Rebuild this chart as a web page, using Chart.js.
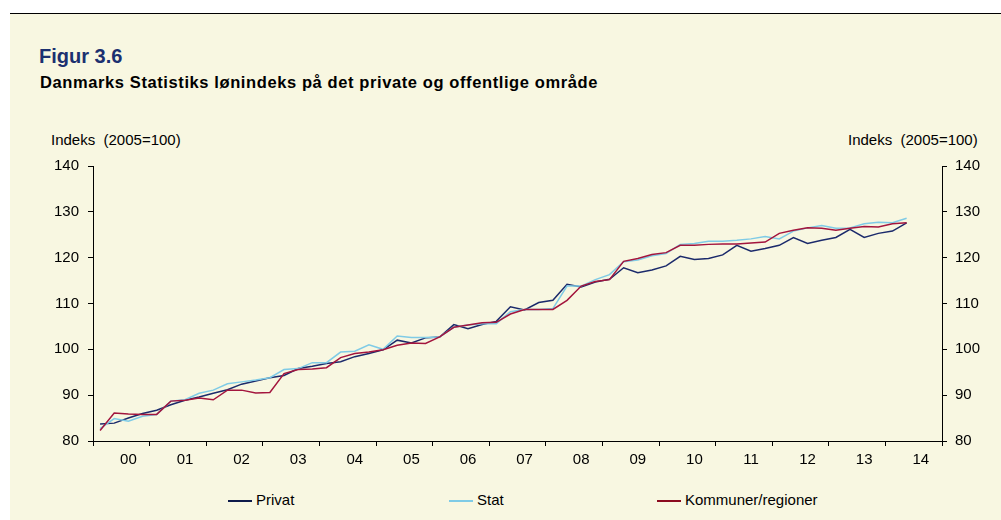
<!DOCTYPE html>
<html lang="da">
<head>
<meta charset="utf-8">
<title>Figur 3.6</title>
<script src="https://cdn.jsdelivr.net/npm/chart.js@4/dist/chart.umd.min.js"></script>
<style>
  body { margin: 0; background: #fff; font-family: 'Liberation Sans', Arial, sans-serif; }
  #wrap { position: relative; width: 1001px; height: 520px; overflow: hidden; }
  #panel { position: absolute; left: 10px; top: 13px; right: 0; bottom: 0; background: #f8f7e1; border-top: 1px solid #000; }
  .txt { position: absolute; white-space: pre; color: #000; }
  #fig { left: 39px; top: 45px; font-size: 20px; font-weight: bold; color: #1b3070; }
  #sub { left: 40px; top: 73px; font-size: 16.5px; font-weight: bold; letter-spacing: 0.6px; }
  .axis-title { top: 131px; font-size: 15px; }
  #legend .item { position: absolute; top: 491px; font-size: 15px; line-height: 17px; }
  #legend .swatch { position: absolute; top: 9px; height: 2px; width: 24px; }
  canvas { position: absolute; left: 0; top: 0; }
</style>
</head>
<body>
<div id="wrap">
  <div id="panel"></div>
  <div class="txt" id="fig">Figur 3.6</div>
  <div class="txt" id="sub">Danmarks Statistiks lønindeks på det private og offentlige område</div>
  <div class="txt axis-title" style="left:51px">Indeks  (2005=100)</div>
  <div class="txt axis-title" style="left:848px">Indeks  (2005=100)</div>
  <div id="legend"></div>
  <canvas id="chart" width="1001" height="520"></canvas>
</div>
<script>
// kvartalsvise indeks 2000K1 - 2014K2
const years = ['00', '01', '02', '03', '04', '05', '06', '07', '08', '09', '10', '11', '12', '13', '14'];

const privat = [
  83.7, 83.9, 85.0, 86.0, 86.7, 87.9, 88.9, 89.6, 90.4, 91.2, 92.4, 93.1,
  93.8, 94.3, 95.8, 96.3, 96.9, 97.3, 98.4, 99.1, 99.9, 102.0, 101.4, 102.5,
  102.7, 105.4, 104.5, 105.4, 106.1, 109.3, 108.6, 110.2, 110.7, 114.2, 113.6, 114.7,
  115.3, 117.8, 116.7, 117.3, 118.2, 120.3, 119.6, 119.8, 120.6, 122.7, 121.4, 122.0,
  122.7, 124.4, 123.1, 123.8, 124.4, 126.2, 124.4, 125.3, 125.8, 127.6
];

const stat = [
  82.7, 84.9, 84.3, 85.4, 85.8, 88.7, 89.0, 90.4, 91.1, 92.5, 92.9, 93.3,
  93.8, 95.6, 95.8, 97.1, 97.1, 99.4, 99.6, 101.0, 100.0, 102.9, 102.6, 102.6,
  102.7, 104.8, 105.3, 105.6, 105.6, 108.2, 108.7, 108.7, 108.9, 113.8, 113.8, 115.2,
  116.3, 119.1, 119.5, 120.4, 120.9, 122.9, 123.1, 123.6, 123.6, 123.8, 124.1, 124.6,
  124.1, 125.8, 126.5, 127.0, 126.4, 126.5, 127.4, 127.7, 127.6, 128.6
];

const kommuner = [
  82.3, 86.1, 85.9, 85.8, 85.8, 88.7, 88.9, 89.4, 89.0, 91.1, 91.1, 90.5,
  90.6, 94.7, 95.6, 95.7, 96.0, 98.2, 99.1, 99.4, 99.9, 100.9, 101.4, 101.3,
  102.7, 104.8, 105.3, 105.8, 105.9, 107.7, 108.7, 108.7, 108.7, 110.7, 113.8, 114.8,
  115.2, 119.2, 119.8, 120.7, 121.1, 122.7, 122.7, 122.9, 123.0, 123.0, 123.2, 123.4,
  125.3, 126.0, 126.5, 126.4, 126.0, 126.4, 126.8, 126.7, 127.4, 127.6
];

const seriesNames = ['Privat', 'Stat', 'Kommuner/regioner'];
const seriesColors = ['#1b2a6b', '#7fcbe6', '#a3153d'];
const legendColors = ['#0d1a4a', '#7fcbe6', '#8b0a1e'];

// 4 kvartaler pr. år
const quarters = [];
years.forEach((y) => {
  for (let q = 1; q <= 4; q++) quarters.push(y + 'K' + q);
});

const font = { family: "'Liberation Sans', Arial, sans-serif", size: 15 };

function yAxis(position, padding, width) {
  return {
    position,
    min: 80,
    max: 140,
    ticks: { stepSize: 10, color: '#000', font, padding },
    grid: { drawOnChartArea: false, drawTicks: true, tickLength: 5, color: '#000' },
    border: { color: '#000', width: 1 },
    afterFit: (s) => { s.width = width; }
  };
}

function yearTick(ctx) {
  return (ctx.index === undefined || ctx.index % 4 === 0) ? '#000' : 'rgba(0,0,0,0)';
}

new Chart(document.getElementById('chart'), {
  type: 'line',
  data: {
    labels: quarters,
    datasets: [
      { label: seriesNames[0], data: privat, borderColor: seriesColors[0], order: 2 },
      { label: seriesNames[1], data: stat, borderColor: seriesColors[1], order: 1 },
      { label: seriesNames[2], data: kommuner, borderColor: seriesColors[2], order: 0 }
    ]
  },
  options: {
    responsive: false,
    animation: false,
    devicePixelRatio: 1,
    layout: { padding: { top: 166, bottom: 49, left: 0, right: 0 } },
    elements: {
      line: { borderWidth: 1.5, tension: 0, fill: false },
      point: { radius: 0 }
    },
    plugins: { legend: { display: false }, tooltip: { enabled: false } },
    scales: {
      x: {
        type: 'category',
        offset: true,
        ticks: {
          autoSkip: false,
          maxRotation: 0,
          color: '#000',
          font,
          padding: 5,
          callback: (v, i) => (i % 4 === 2 ? years[Math.floor(i / 4)] : '')
        },
        grid: { offset: true, drawOnChartArea: false, tickLength: 5, color: yearTick, tickColor: yearTick },
        border: { color: '#000', width: 1 },
        afterFit: (s) => { s.height = 30; }
      },
      y: yAxis('left', 9, 93),
      y2: yAxis('right', 8, 59)
    }
  }
});

// forklaring
const legend = document.getElementById('legend');
const legendX = [228, 449, 657];
seriesNames.forEach((name, i) => {
  const item = document.createElement('div');
  item.className = 'item';
  item.style.left = legendX[i] + 'px';
  item.innerHTML = `<span class="swatch" style="left:0;background:${legendColors[i]}"></span><span style="margin-left:28px">${name}</span>`;
  legend.appendChild(item);
});
</script>
</body>
</html>
